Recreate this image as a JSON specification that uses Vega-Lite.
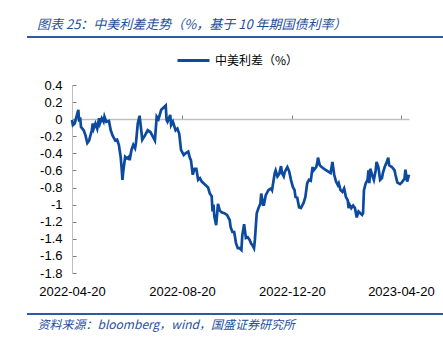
{
  "$schema": "https://vega.github.io/schema/vega-lite/v6.json",
  "width": 337,
  "height": 188,
  "autosize": "none",
  "padding": {"left": 72, "top": 85, "right": 34, "bottom": 69},
  "background": "white",
  "title": {
    "text": "图表 25：中美利差走势（%，基于 10 年期国债利率）",
    "anchor": "start",
    "frame": "group",
    "dx": -35,
    "offset": 4,
    "font": "Noto Sans CJK SC",
    "fontSize": 13,
    "fontStyle": "italic",
    "fontWeight": "normal",
    "color": "#1F4E9C"
  },
  "config": {
    "view": {"stroke": null},
    "axis": {"labelFont": "Liberation Sans", "labelFontSize": 13, "labelColor": "#000000", "grid": false},
    "axisY": {"labelOverlap": false, "labelBound": false}
  },
  "data": {
    "values": [
      {"d": "2022-04-20", "v": -0.01}, {"d": "2022-04-21", "v": -0.07}, {"d": "2022-04-23", "v": -0.05},
      {"d": "2022-04-27", "v": 0.11}, {"d": "2022-04-28", "v": -0.03}, {"d": "2022-04-29", "v": 0.02},
      {"d": "2022-04-30", "v": -0.09}, {"d": "2022-05-03", "v": -0.13}, {"d": "2022-05-05", "v": -0.19},
      {"d": "2022-05-07", "v": -0.28}, {"d": "2022-05-09", "v": -0.25}, {"d": "2022-05-12", "v": -0.13},
      {"d": "2022-05-13", "v": -0.05}, {"d": "2022-05-14", "v": -0.11}, {"d": "2022-05-16", "v": -0.05},
      {"d": "2022-05-18", "v": -0.11}, {"d": "2022-05-20", "v": 0.01}, {"d": "2022-05-21", "v": -0.05},
      {"d": "2022-05-23", "v": 0.01}, {"d": "2022-05-25", "v": -0.03}, {"d": "2022-05-26", "v": 0.03},
      {"d": "2022-05-28", "v": -0.03}, {"d": "2022-05-31", "v": -0.02}, {"d": "2022-06-02", "v": -0.13},
      {"d": "2022-06-04", "v": -0.19}, {"d": "2022-06-07", "v": -0.25}, {"d": "2022-06-09", "v": -0.24},
      {"d": "2022-06-11", "v": -0.30}, {"d": "2022-06-13", "v": -0.44}, {"d": "2022-06-14", "v": -0.56},
      {"d": "2022-06-15", "v": -0.71}, {"d": "2022-06-16", "v": -0.60}, {"d": "2022-06-18", "v": -0.44},
      {"d": "2022-06-20", "v": -0.46}, {"d": "2022-06-22", "v": -0.44}, {"d": "2022-06-23", "v": -0.48},
      {"d": "2022-06-25", "v": -0.36}, {"d": "2022-06-27", "v": -0.30}, {"d": "2022-06-29", "v": -0.34},
      {"d": "2022-06-30", "v": -0.28}, {"d": "2022-07-02", "v": -0.05}, {"d": "2022-07-04", "v": 0.04},
      {"d": "2022-07-07", "v": -0.24}, {"d": "2022-07-10", "v": -0.19}, {"d": "2022-07-13", "v": -0.13},
      {"d": "2022-07-16", "v": -0.15}, {"d": "2022-07-18", "v": -0.19}, {"d": "2022-07-21", "v": -0.25},
      {"d": "2022-07-23", "v": 0.03}, {"d": "2022-07-25", "v": 0.00}, {"d": "2022-07-28", "v": 0.11},
      {"d": "2022-07-31", "v": 0.14}, {"d": "2022-08-02", "v": 0.16}, {"d": "2022-08-03", "v": -0.01},
      {"d": "2022-08-04", "v": -0.03}, {"d": "2022-08-07", "v": 0.05}, {"d": "2022-08-08", "v": -0.07},
      {"d": "2022-08-10", "v": -0.03}, {"d": "2022-08-13", "v": -0.13}, {"d": "2022-08-15", "v": -0.11},
      {"d": "2022-08-17", "v": -0.17}, {"d": "2022-08-19", "v": -0.36}, {"d": "2022-08-22", "v": -0.42},
      {"d": "2022-08-24", "v": -0.40}, {"d": "2022-08-27", "v": -0.38}, {"d": "2022-08-29", "v": -0.46},
      {"d": "2022-08-30", "v": -0.48}, {"d": "2022-09-01", "v": -0.65}, {"d": "2022-09-03", "v": -0.58},
      {"d": "2022-09-05", "v": -0.58}, {"d": "2022-09-07", "v": -0.71}, {"d": "2022-09-09", "v": -0.69},
      {"d": "2022-09-11", "v": -0.73}, {"d": "2022-09-13", "v": -0.75}, {"d": "2022-09-16", "v": -0.78},
      {"d": "2022-09-18", "v": -0.80}, {"d": "2022-09-20", "v": -0.87}, {"d": "2022-09-22", "v": -0.90},
      {"d": "2022-09-23", "v": -1.08}, {"d": "2022-09-24", "v": -1.00}, {"d": "2022-09-25", "v": -1.14},
      {"d": "2022-09-27", "v": -1.24}, {"d": "2022-09-29", "v": -0.99}, {"d": "2022-10-01", "v": -1.07},
      {"d": "2022-10-03", "v": -1.09}, {"d": "2022-10-06", "v": -1.10}, {"d": "2022-10-09", "v": -1.12},
      {"d": "2022-10-12", "v": -1.18}, {"d": "2022-10-13", "v": -1.26}, {"d": "2022-10-15", "v": -1.32},
      {"d": "2022-10-17", "v": -1.32}, {"d": "2022-10-19", "v": -1.45}, {"d": "2022-10-21", "v": -1.51},
      {"d": "2022-10-23", "v": -1.51}, {"d": "2022-10-25", "v": -1.53}, {"d": "2022-10-26", "v": -1.36},
      {"d": "2022-10-28", "v": -1.23}, {"d": "2022-10-30", "v": -1.39}, {"d": "2022-11-01", "v": -1.38},
      {"d": "2022-11-03", "v": -1.41}, {"d": "2022-11-05", "v": -1.46}, {"d": "2022-11-06", "v": -1.47},
      {"d": "2022-11-08", "v": -1.51}, {"d": "2022-11-09", "v": -1.41}, {"d": "2022-11-11", "v": -1.10},
      {"d": "2022-11-13", "v": -1.04}, {"d": "2022-11-15", "v": -0.99}, {"d": "2022-11-16", "v": -0.87},
      {"d": "2022-11-18", "v": -1.00}, {"d": "2022-11-19", "v": -1.00}, {"d": "2022-11-21", "v": -0.89},
      {"d": "2022-11-24", "v": -0.83}, {"d": "2022-11-27", "v": -0.81}, {"d": "2022-11-28", "v": -0.83},
      {"d": "2022-12-01", "v": -0.63}, {"d": "2022-12-02", "v": -0.60}, {"d": "2022-12-04", "v": -0.67},
      {"d": "2022-12-06", "v": -0.64}, {"d": "2022-12-08", "v": -0.55}, {"d": "2022-12-09", "v": -0.63},
      {"d": "2022-12-11", "v": -0.67}, {"d": "2022-12-12", "v": -0.62}, {"d": "2022-12-15", "v": -0.56},
      {"d": "2022-12-17", "v": -0.61}, {"d": "2022-12-19", "v": -0.71}, {"d": "2022-12-21", "v": -0.79},
      {"d": "2022-12-23", "v": -0.83}, {"d": "2022-12-24", "v": -0.91}, {"d": "2022-12-26", "v": -0.92},
      {"d": "2022-12-28", "v": -1.03}, {"d": "2022-12-30", "v": -1.04}, {"d": "2023-01-02", "v": -0.98},
      {"d": "2023-01-04", "v": -0.91}, {"d": "2023-01-06", "v": -0.75}, {"d": "2023-01-08", "v": -0.71},
      {"d": "2023-01-10", "v": -0.72}, {"d": "2023-01-12", "v": -0.56}, {"d": "2023-01-13", "v": -0.60},
      {"d": "2023-01-16", "v": -0.56}, {"d": "2023-01-17", "v": -0.52}, {"d": "2023-01-18", "v": -0.45},
      {"d": "2023-01-20", "v": -0.54}, {"d": "2023-01-22", "v": -0.56}, {"d": "2023-01-26", "v": -0.59},
      {"d": "2023-01-29", "v": -0.61}, {"d": "2023-02-01", "v": -0.63}, {"d": "2023-02-03", "v": -0.50},
      {"d": "2023-02-05", "v": -0.65}, {"d": "2023-02-07", "v": -0.73}, {"d": "2023-02-09", "v": -0.77},
      {"d": "2023-02-10", "v": -0.75}, {"d": "2023-02-12", "v": -0.83}, {"d": "2023-02-14", "v": -0.85},
      {"d": "2023-02-16", "v": -0.81}, {"d": "2023-02-18", "v": -0.91}, {"d": "2023-02-20", "v": -0.95},
      {"d": "2023-02-21", "v": -1.04}, {"d": "2023-02-22", "v": -1.00}, {"d": "2023-02-24", "v": -1.04},
      {"d": "2023-02-26", "v": -1.01}, {"d": "2023-02-28", "v": -1.04}, {"d": "2023-03-02", "v": -1.15},
      {"d": "2023-03-04", "v": -1.08}, {"d": "2023-03-06", "v": -1.10}, {"d": "2023-03-08", "v": -1.12},
      {"d": "2023-03-09", "v": -1.10}, {"d": "2023-03-10", "v": -0.83}, {"d": "2023-03-12", "v": -0.75},
      {"d": "2023-03-14", "v": -0.71}, {"d": "2023-03-15", "v": -0.60}, {"d": "2023-03-16", "v": -0.75},
      {"d": "2023-03-17", "v": -0.58}, {"d": "2023-03-19", "v": -0.65}, {"d": "2023-03-21", "v": -0.71},
      {"d": "2023-03-23", "v": -0.60}, {"d": "2023-03-24", "v": -0.50}, {"d": "2023-03-26", "v": -0.56},
      {"d": "2023-03-28", "v": -0.71}, {"d": "2023-03-30", "v": -0.69}, {"d": "2023-03-31", "v": -0.63},
      {"d": "2023-04-02", "v": -0.56}, {"d": "2023-04-04", "v": -0.51}, {"d": "2023-04-06", "v": -0.45},
      {"d": "2023-04-07", "v": -0.54}, {"d": "2023-04-10", "v": -0.56}, {"d": "2023-04-13", "v": -0.60},
      {"d": "2023-04-14", "v": -0.65}, {"d": "2023-04-16", "v": -0.74}, {"d": "2023-04-19", "v": -0.76},
      {"d": "2023-04-21", "v": -0.74}, {"d": "2023-04-23", "v": -0.71}, {"d": "2023-04-24", "v": -0.70},
      {"d": "2023-04-25", "v": -0.59}, {"d": "2023-04-26", "v": -0.66}, {"d": "2023-04-27", "v": -0.73},
      {"d": "2023-04-29", "v": -0.65}
    ]
  },
  "layer": [
    {
      "mark": {"type": "line", "strokeWidth": 2.5, "opacity": 0},
      "encoding": {
        "x": {
          "field": "d", "type": "temporal",
          "scale": {"type": "utc", "domain": [{"year": 2022, "month": 4, "date": 20, "utc": true}, {"year": 2023, "month": 4, "date": 29, "utc": true}], "nice": false},
          "axis": {
            "orient": "top", "offset": -34, "labels": false, "title": null,
            "values": [{"year": 2022, "month": 4, "date": 20, "utc": true}, {"year": 2022, "month": 8, "date": 20, "utc": true}, {"year": 2022, "month": 12, "date": 20, "utc": true}, {"year": 2023, "month": 4, "date": 20, "utc": true}],
            "domainColor": "#BFBFBF", "domainWidth": 1.6, "tickColor": "#7F7F7F", "tickSize": 4, "tickWidth": 1
          }
        },
        "y": {
          "field": "v", "type": "quantitative",
          "scale": {"domain": [-1.8, 0.4], "nice": false, "zero": false},
          "axis": {
            "title": null, "values": [0.4, 0.2, 0, -0.2, -0.4, -0.6, -0.8, -1, -1.2, -1.4, -1.6, -1.8],
            "labelExpr": "replace(format(datum.value, '.1~f'), '\u2212', '-')",
            "labelOverlap": false, "labelBound": false,
            "domainColor": "#BFBFBF", "domainWidth": 1, "tickColor": "#7F7F7F", "tickSize": -4, "labelPadding": 14
          }
        }
      }
    },
    {
      "mark": {"type": "line", "strokeWidth": 2.7},
      "encoding": {
        "x": {
          "field": "d", "type": "temporal",
          "axis": {
            "orient": "bottom", "domain": false, "ticks": false, "labelPadding": 12, "format": "%Y-%m-%d", "labelFlush": false, "labelOverlap": false,
            "values": [{"year": 2022, "month": 4, "date": 20, "utc": true}, {"year": 2022, "month": 8, "date": 20, "utc": true}, {"year": 2022, "month": 12, "date": 20, "utc": true}, {"year": 2023, "month": 4, "date": 20, "utc": true}],
            "title": "资料来源：bloomberg，wind，国盛证券研究所",
            "titleFont": "Noto Sans CJK SC", "titleFontSize": 12, "titleFontStyle": "italic", "titleFontWeight": "normal", "titleColor": "#1F4E9C",
            "titleAnchor": "start", "titleAlign": "left", "titleBaseline": "middle", "titleX": -35, "titleY": 51
          }
        },
        "y": {
          "field": "v", "type": "quantitative",
          "axis": {
            "title": null, "values": [0.4, 0.2, 0, -0.2, -0.4, -0.6, -0.8, -1, -1.2, -1.4, -1.6, -1.8],
            "labelExpr": "replace(format(datum.value, '.1~f'), '\u2212', '-')",
            "labelOverlap": false, "labelBound": false,
            "domainColor": "#BFBFBF", "domainWidth": 1, "tickColor": "#7F7F7F", "tickSize": -4, "labelPadding": 14
          }
        },
        "color": {
          "datum": "中美利差（%）",
          "scale": {"range": ["#0B4A9E"]},
          "legend": {
            "title": null, "orient": "none", "legendX": 104, "legendY": -42, "padding": 0,
            "symbolType": "stroke", "symbolSize": 1024, "symbolStrokeWidth": 3,
            "labelFont": "Noto Sans CJK SC", "labelFontSize": 12, "labelColor": "#000000", "labelOffset": 4
          }
        }
      }
    },
    {
      "mark": {"type": "rule", "color": "#2B5BA6", "strokeWidth": 2},
      "encoding": {"x": {"value": -45}, "x2": {"value": 371}, "y": {"value": -48}}
    },
    {
      "mark": {"type": "rule", "color": "#2B5BA6", "strokeWidth": 2},
      "encoding": {"x": {"value": -45}, "x2": {"value": 371}, "y": {"value": 229}}
    }
  ],
  "resolve": {"axis": {"x": "independent"}}
}
